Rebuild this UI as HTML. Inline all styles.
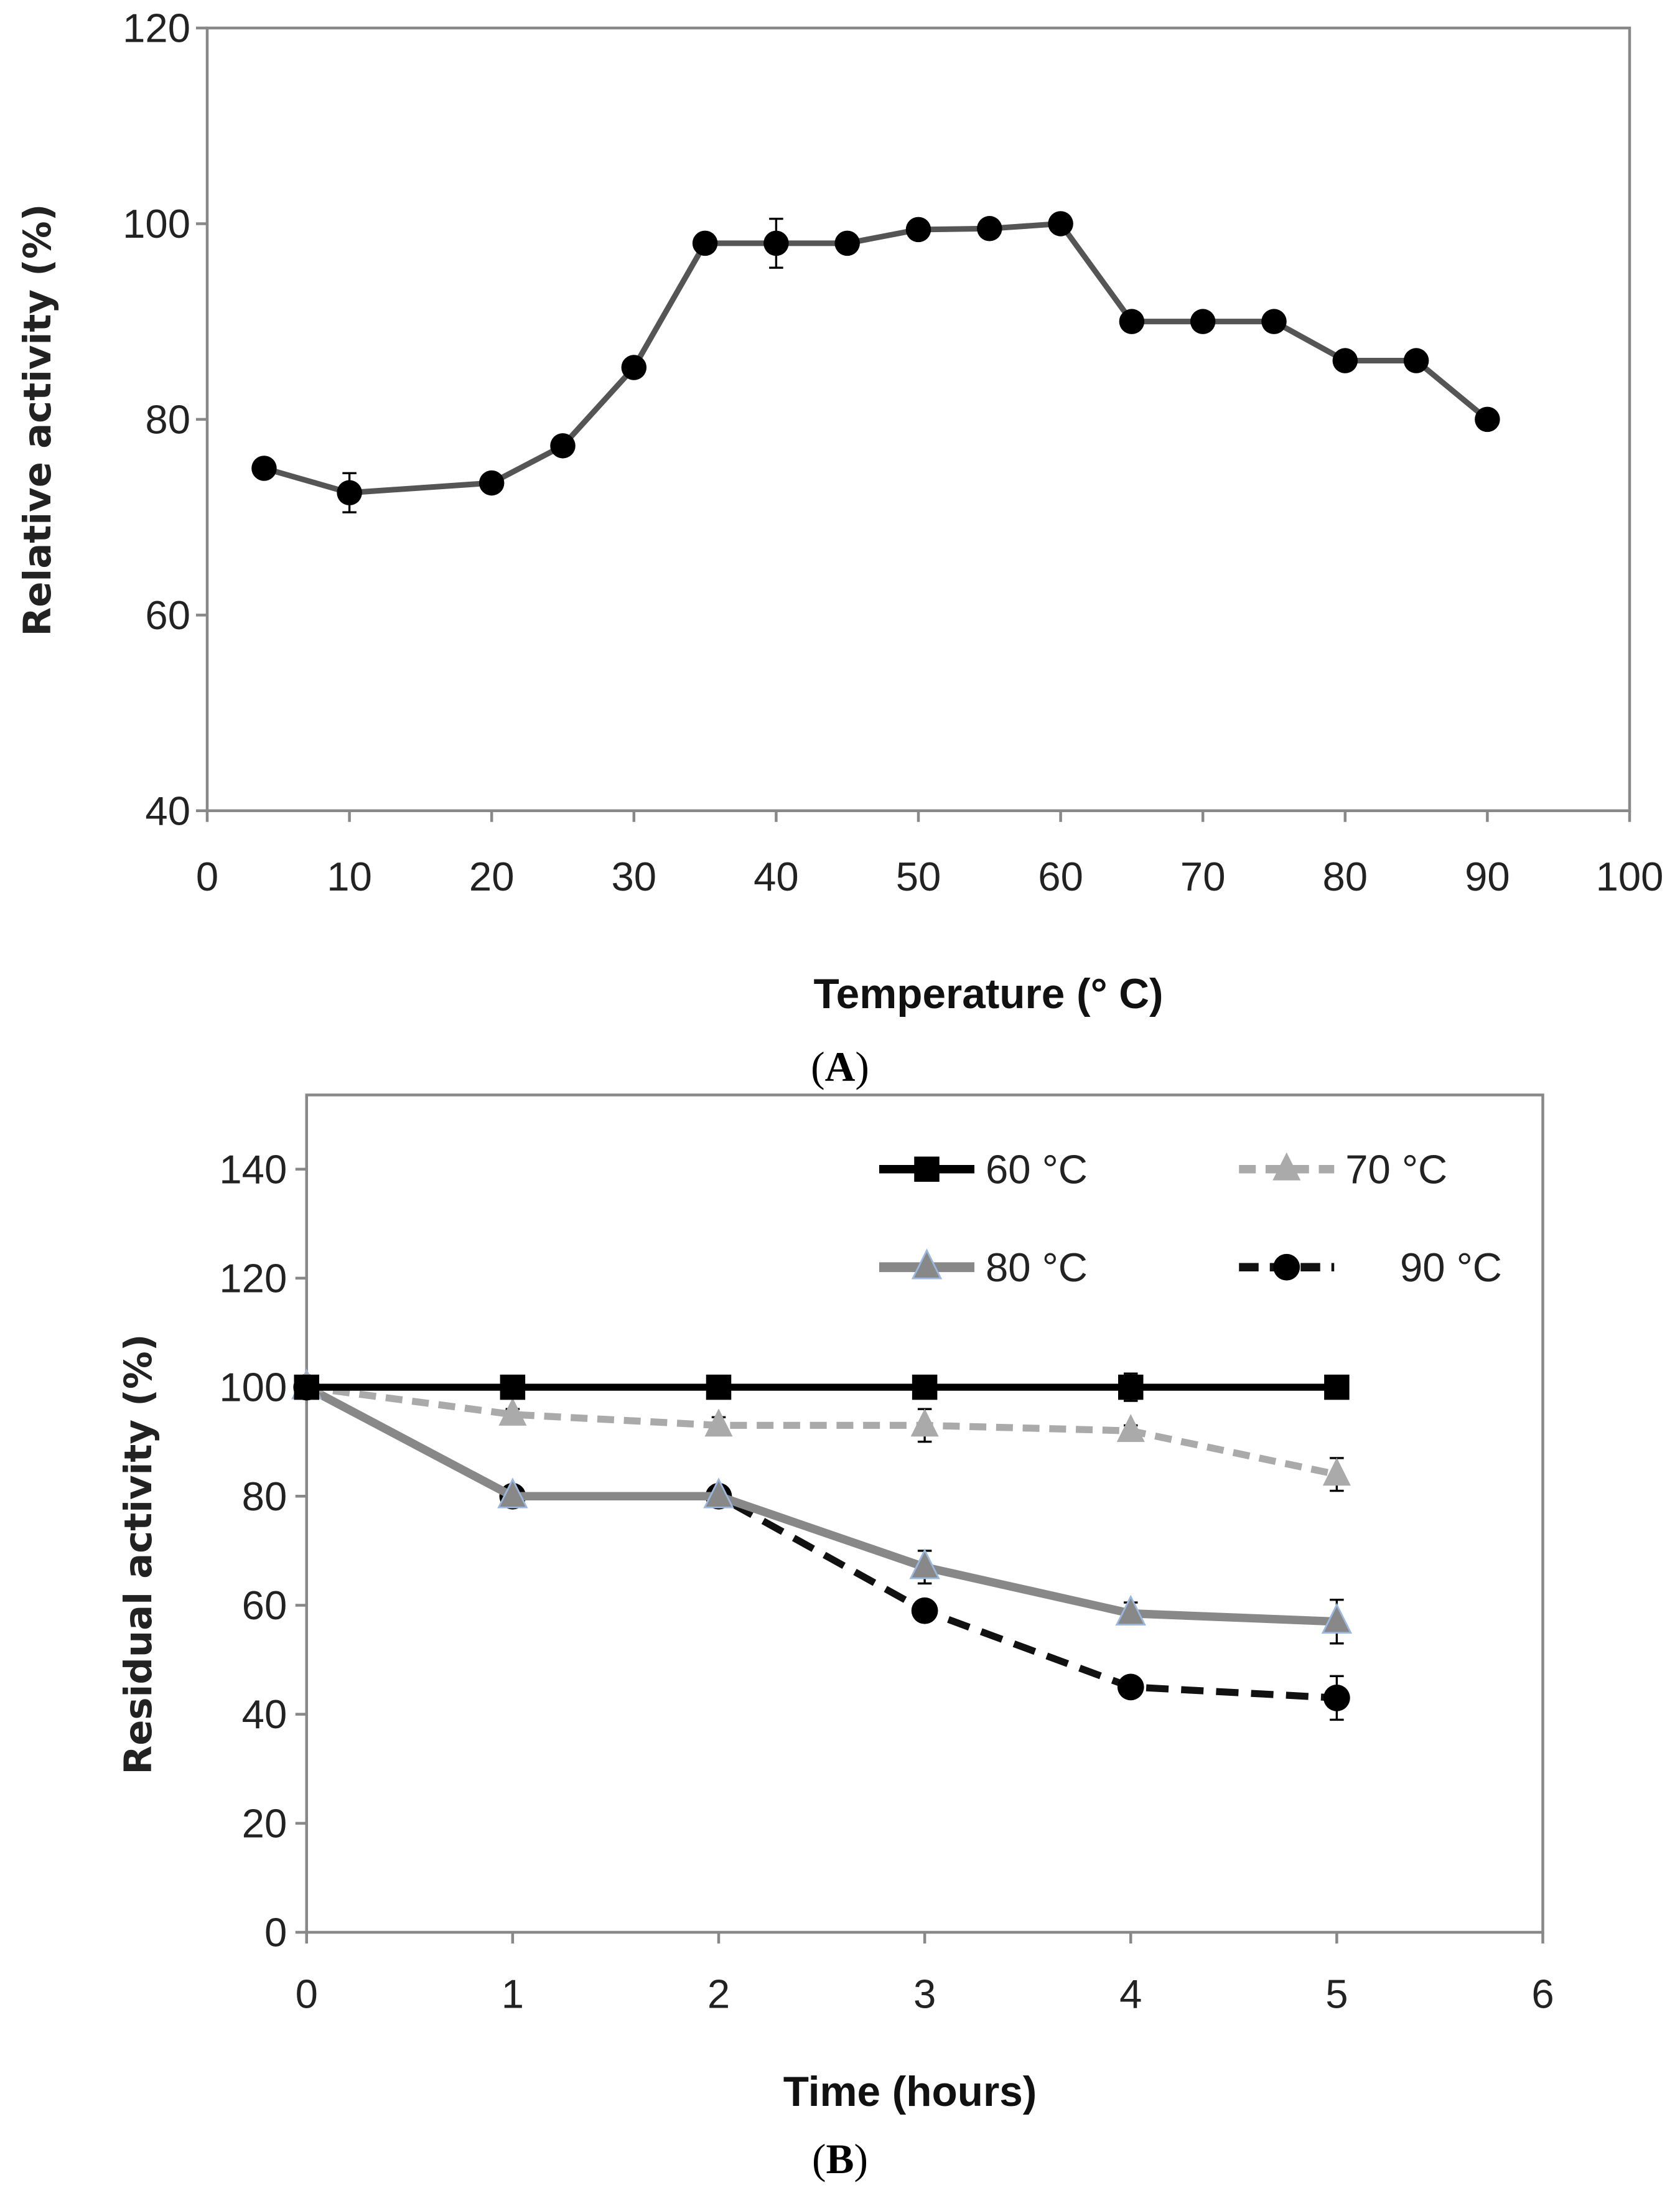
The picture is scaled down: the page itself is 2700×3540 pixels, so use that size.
<!DOCTYPE html>
<html><head><meta charset="utf-8"><style>
html,body{margin:0;padding:0;background:#fff}
svg{display:block}
text{font-family:"Liberation Sans Narrow","Liberation Sans",sans-serif}
</style></head><body>
<svg id="svg" width="2700" height="3540" viewBox="0 0 1200 1573.33" xmlns="http://www.w3.org/2000/svg">
<g id="chartA"></g>
<g id="chartB"></g>
<text transform="translate(36,300) rotate(-90)" text-anchor="middle" font-size="27" font-weight="bold" fill="#222" style="font-family:'DejaVu Sans',sans-serif">Relative  activity (%)</text>
<text x="706" y="720" text-anchor="middle" font-size="30" font-weight="bold" fill="#111">Temperature (° C)</text>
<text x="600" y="772" text-anchor="middle" font-size="30" fill="#000" style="font-family:'Liberation Serif',serif">(<tspan font-weight="bold">A</tspan>)</text>
<text transform="translate(108,1110) rotate(-90)" text-anchor="middle" font-size="27" font-weight="bold" fill="#222" style="font-family:'DejaVu Sans',sans-serif">Residual activity (%)</text>
<text x="650" y="1504" text-anchor="middle" font-size="30" font-weight="bold" fill="#111">Time (hours)</text>
<text x="600" y="1552" text-anchor="middle" font-size="30" fill="#000" style="font-family:'Liberation Serif',serif">(<tspan font-weight="bold">B</tspan>)</text>
</svg>
<script>
const tempsA = [4,10,20,25,30,35,40,45,50,55,60,65,70,75,80,85,90];
const activityA = [75,72.5,73.5,77.3,85.3,98,98,98,99.4,99.5,100,90,90,90,86,86,80];
const errA = [0.8,2,0.5,0.6,0.6,0.6,2.5,0.6,0.6,0.6,0.5,0.5,0.5,0.5,0.5,0.5,0.5];
const xTicksA = [0,10,20,30,40,50,60,70,80,90,100];
const yTicksA = [40,60,80,100,120];

const timesB = [0,1,2,3,4,5];
const s60 = [100,100,100,100,100,100];
const s70 = [100,95,93,93,92,84];
const s80 = [100,80,80,67,58.5,57];
const s90 = [100,80,80,59,45,43];
const e60 = [0.5,0.5,0.5,1.5,2.5,0.5];
const e70 = [0.5,1,1.5,3,1,3];
const e80 = [0.5,0.5,0.5,3,2,4];
const e90 = [0.5,0.5,0.5,0.5,1.5,4];
const xTicksB = [0,1,2,3,4,5,6];
const yTicksB = [0,20,40,60,80,100,120,140];

const NS="http://www.w3.org/2000/svg";
function mk(parent,tag,attrs){const e=document.createElementNS(NS,tag);for(const k in attrs)e.setAttribute(k,attrs[k]);parent.appendChild(e);return e;}

// Chart A
const A=document.getElementById('chartA');
const axL=148,axR=1164,ayT=20,ayB=579;
const xA=v=>axL+(v-0)/100*(axR-axL);
const yA=v=>ayB-(v-40)/80*(ayB-ayT);
let fr=mk(A,'rect',{x:axL,y:ayT,width:axR-axL,height:ayB-ayT,fill:'none',stroke:'#888','stroke-width':2});


yTicksA.forEach(v=>{
  const t=mk(A,'line',{x1:axL-8,x2:axL,y1:yA(v),y2:yA(v),stroke:'#888','stroke-width':2});
  
  
  const l=mk(A,'text',{x:axL-12,y:yA(v)+10,'text-anchor':'end','font-size':29,fill:'#222'});
  l.textContent=v;
  
  
});
xTicksA.forEach(v=>{
  const t=mk(A,'line',{x1:xA(v),x2:xA(v),y1:ayB,y2:ayB+8,stroke:'#888','stroke-width':2});
  
  
  const l=mk(A,'text',{x:xA(v),y:ayB+57,'text-anchor':'middle','font-size':29,fill:'#222'});
  l.textContent=v;
  
  
});
let pl=mk(A,'polyline',{points:tempsA.map((t,i)=>xA(t)+','+yA(activityA[i])).join(' '),fill:'none',stroke:'#555','stroke-width':4});


tempsA.forEach((t,i)=>{
  const x=xA(t),y1=yA(activityA[i]+errA[i]),y2=yA(activityA[i]-errA[i]);
  const eb=mk(A,'path',{d:`M${x},${y1}V${y2}M${x-5},${y1}H${x+5}M${x-5},${y2}H${x+5}`,stroke:'#000','stroke-width':1.5,fill:'none'});
  
  
  const c=mk(A,'circle',{cx:x,cy:yA(activityA[i]),r:9,fill:'#000'});
  
  
});

// Chart B
const B=document.getElementById('chartB');
const bxL=219,bxR=1102,byT=782,byB=1380;
const xB=v=>bxL+v/6*(bxR-bxL);
const yB=v=>byB-v/140*(byB-835);
fr=mk(B,'rect',{x:bxL,y:byT,width:bxR-bxL,height:byB-byT,fill:'none',stroke:'#888','stroke-width':2});


yTicksB.forEach(v=>{
  const t=mk(B,'line',{x1:bxL-8,x2:bxL,y1:yB(v),y2:yB(v),stroke:'#888','stroke-width':2});
  
  
  const l=mk(B,'text',{x:bxL-14,y:yB(v)+10,'text-anchor':'end','font-size':29,fill:'#222'});
  l.textContent=v;
  
  
});
xTicksB.forEach(v=>{
  const t=mk(B,'line',{x1:xB(v),x2:xB(v),y1:byB,y2:byB+8,stroke:'#888','stroke-width':2});
  
  
  const l=mk(B,'text',{x:xB(v),y:byB+54,'text-anchor':'middle','font-size':29,fill:'#222'});
  l.textContent=v;
  
  
});
function marker(g,type,x,y,fill,stroke){
  let m;
  if(type==='square') m=mk(g,'rect',{x:x-9,y:y-9,width:18,height:18,fill:fill});
  else if(type==='tri') m=mk(g,'path',{d:`M${x},${y-12}L${x+10},${y+8}L${x-10},${y+8}Z`,fill:fill,stroke:stroke,'stroke-width':1.2});
  else m=mk(g,'circle',{cx:x,cy:y,r:9.5,fill:fill});
  return m;
}
const series=[
  {name:'90',vals:s90,err:e90,color:'#111',dash:'16,9',w:5,mk:'circle',mf:'#000',ms:'none'},
  {name:'80',vals:s80,err:e80,color:'#888',dash:'',w:6,mk:'tri',mf:'#888',ms:'#9bb8e0'},
  {name:'70',vals:s70,err:e70,color:'#aaa',dash:'12,7',w:5,mk:'tri',mf:'#aaa',ms:'none'},
  {name:'60',vals:s60,err:e60,color:'#000',dash:'',w:5,mk:'square',mf:'#000',ms:'none'}
];
series.forEach(s=>{
  const g=mk(B,'g',{});
  
  
  const ln=mk(g,'polyline',{points:timesB.map((t,i)=>xB(t)+','+yB(s.vals[i])).join(' '),fill:'none',stroke:s.color,'stroke-width':s.w,'stroke-dasharray':s.dash});
  
  
  timesB.forEach((t,i)=>{
    const x=xB(t),y1=yB(s.vals[i]+s.err[i]),y2=yB(s.vals[i]-s.err[i]);
    const eb=mk(g,'path',{d:`M${x},${y1}V${y2}M${x-5},${y1}H${x+5}M${x-5},${y2}H${x+5}`,stroke:'#000','stroke-width':1.5,fill:'none'});
    
    
    const m=marker(g,s.mk,x,yB(s.vals[i]),s.mf,s.ms);
    
    
  });
});
// legend
const legend=[
  {label:'60 °C',x:628,y:835,color:'#000',dash:'',w:5,mk:'square',mf:'#000',ms:'none'},
  {label:'70 °C',x:885,y:835,color:'#aaa',dash:'12,7',w:5,mk:'tri',mf:'#aaa',ms:'none'},
  {label:'80 °C',x:628,y:905,color:'#888',dash:'',w:6,mk:'tri',mf:'#888',ms:'#9bb8e0'},
  {label:'90 °C',x:885,y:905,color:'#111',dash:'14,8',w:5,mk:'circle',mf:'#000',ms:'none'}
];
legend.forEach(L=>{
  const g=mk(B,'g',{});
  
  
  mk(g,'line',{x1:L.x,x2:L.x+68,y1:L.y,y2:L.y,stroke:L.color,'stroke-width':L.w+1,'stroke-dasharray':L.dash});
  marker(g,L.mk,L.x+34,L.y,L.mf,L.ms);
  const t=mk(g,'text',{x:L.x+(L.label==='90 °C'?115:76),y:L.y+10,'font-size':29,fill:'#222'});
  t.textContent=L.label;
});
</script>
</body></html>
